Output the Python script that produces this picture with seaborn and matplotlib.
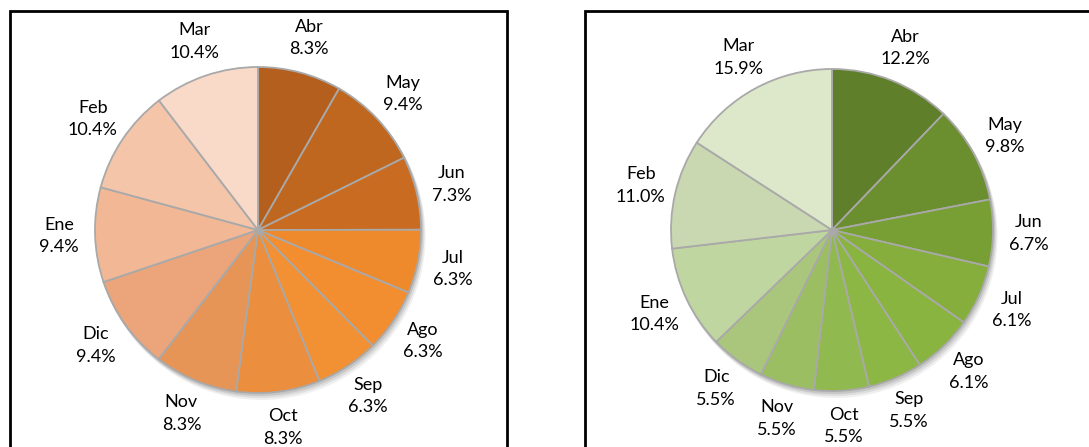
import matplotlib
matplotlib.use("Agg")
import matplotlib.pyplot as plt
from matplotlib.patches import Rectangle, Circle
import seaborn as sns

# month order as drawn, clockwise from 12 o'clock
months = ["Abr", "May", "Jun", "Jul", "Ago", "Sep", "Oct", "Nov", "Dic", "Ene", "Feb", "Mar"]
left_values = [8.3, 9.4, 7.3, 6.3, 6.3, 6.3, 8.3, 8.3, 9.4, 9.4, 10.4, 10.4]
right_values = [12.2, 9.8, 6.7, 6.1, 6.1, 5.5, 5.5, 5.5, 5.5, 10.4, 11.0, 15.9]

orange_colors = ["#B45F1E", "#BF661F", "#C96C22", "#EE892C", "#F28D30", "#F29034",
                 "#EB8E3E", "#E69557", "#ECA47A", "#F2B895", "#F4C5A9", "#F9DAC8"]
green_colors = ["#5F7F2A", "#6B8E2E", "#789F34", "#85AE3C", "#89B440", "#8DB745",
                "#90B94F", "#9CBE63", "#A9C67C", "#C0D6A0", "#C9D8B1", "#DDE7C9"]

sns.set_theme(style="white")
plt.rcParams['font.family'] = ['Lato', 'DejaVu Sans']

W, H = 1089, 447
fig = plt.figure(figsize=(W / 100, H / 100), dpi=100)
ax = fig.add_axes([0, 0, 1, 1])

def draw_pie(values, colors, cx, cy, r):
    # soft drop shadow behind the pie
    for k, a in [(6, 0.06), (4, 0.08), (2, 0.10)]:
        ax.add_patch(Circle((cx + k * 0.6, cy - k), r + 1, color="black", alpha=a, lw=0, zorder=0))
    labels = [f"{m}\n{v:.1f}%" for m, v in zip(months, values)]
    wedges, texts = ax.pie(values, labels=labels, colors=colors, startangle=90,
                           counterclock=False, center=(cx, cy), radius=r,
                           labeldistance=1.22, frame=True,
                           wedgeprops=dict(edgecolor="#A9A9A9", linewidth=1.3, zorder=1),
                           textprops=dict(fontsize=13, color="black", linespacing=1.5))
    for t in texts:
        t.set_ha("center")
        t.set_va("center")

draw_pie(left_values, orange_colors, 258, H - 230, 163)
draw_pie(right_values, green_colors, 832, H - 230, 161)

# panel frames
ax.add_patch(Rectangle((10, -20), 497, H - 11 + 20, fill=False, lw=2, edgecolor="black"))
ax.add_patch(Rectangle((585, -20), 600, H - 11 + 20, fill=False, lw=2, edgecolor="black"))

ax.set_xlim(0, W)
ax.set_ylim(0, H)
ax.set_aspect("equal")
ax.axis("off")

fig.savefig("out.png", dpi=100)
